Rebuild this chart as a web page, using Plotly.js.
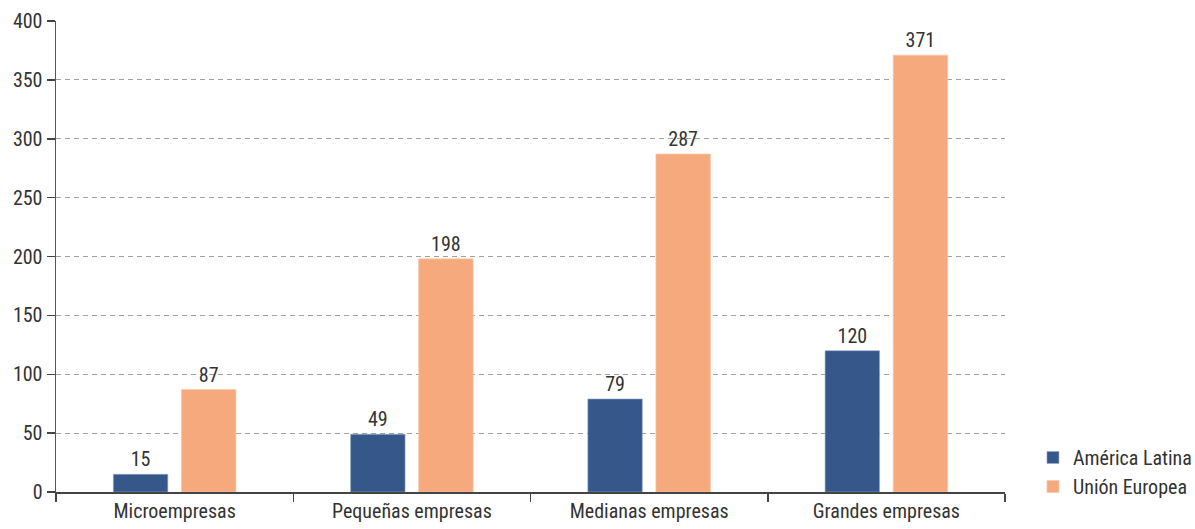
<!DOCTYPE html>
<html>
<head>
<meta charset="utf-8">
<script src="https://cdn.plot.ly/plotly-3.0.1.min.js"></script>
<style>html,body{margin:0;padding:0;background:#fff;}#chart{width:1195px;height:529px;}</style>
</head>
<body>
<div id="chart"></div>
<script>
const categories = ["Microempresas", "Pequeñas empresas", "Medianas empresas", "Grandes empresas"];
const americaLatina = [15, 49, 79, 120];
const unionEuropea = [87, 198, 287, 371];
const seriesNames = ["América Latina", "Unión Europea"];
const yTicks = [0, 50, 100, 150, 200, 250, 300, 350, 400];

const FONT = "'Liberation Sans Narrow', 'Roboto Condensed', 'DejaVu Sans Condensed', sans-serif";
const FS = 20;

const traces = [
  {
    type: "bar", name: seriesNames[0], x: categories, y: americaLatina,
    marker: {color: "#35578a", line: {color: "rgba(150,170,200,0.6)", width: 1}},
    text: americaLatina.map(String), textposition: "outside", cliponaxis: false,
    textfont: {family: FONT, size: FS, color: "#333"}
  },
  {
    type: "bar", name: seriesNames[1], x: categories, y: unionEuropea,
    marker: {color: "#f6a97d", line: {color: "rgba(250,200,170,0.7)", width: 1}},
    text: unionEuropea.map(String), textposition: "outside", cliponaxis: false,
    textfont: {family: FONT, size: FS, color: "#333"}
  }
];

const layout = {
  width: 1195, height: 529,
  margin: {l: 56, r: 190, t: 21, b: 37, autoexpand: false},
  paper_bgcolor: "#fff", plot_bgcolor: "#fff",
  font: {family: FONT, size: FS, color: "#333"},
  barmode: "group", bargap: 0.426, bargroupgap: 0.2,
  showlegend: true,
  legend: {xref: "container", yref: "container", x: 0.8644, xanchor: "left", y: 0.0435, yanchor: "bottom",
           font: {family: FONT, size: FS, color: "#333"}, tracegroupgap: 0, itemwidth: 30},
  xaxis: {
    type: "category", showline: true, linecolor: "#444", linewidth: 1.5,
    ticks: "outside", tickson: "boundaries", ticklen: 8, tickcolor: "#444", tickwidth: 1.5,
    showgrid: false, tickfont: {family: FONT, size: FS, color: "#333"}, fixedrange: true, automargin: false
  },
  yaxis: {
    range: [0, 400], tickvals: yTicks, ticktext: yTicks.map(String),
    showline: true, linecolor: "#555", linewidth: 1.5,
    ticks: "outside", ticklen: 8, tickcolor: "#444", tickwidth: 1.5,
    showgrid: true, gridcolor: "#a0a0a0", griddash: "5px,4px", gridwidth: 1,
    zeroline: false, tickfont: {family: FONT, size: FS, color: "#333"}, fixedrange: true, automargin: false
  }
};

Plotly.newPlot("chart", traces, layout, {displayModeBar: false, staticPlot: true});
</script>
</body>
</html>
